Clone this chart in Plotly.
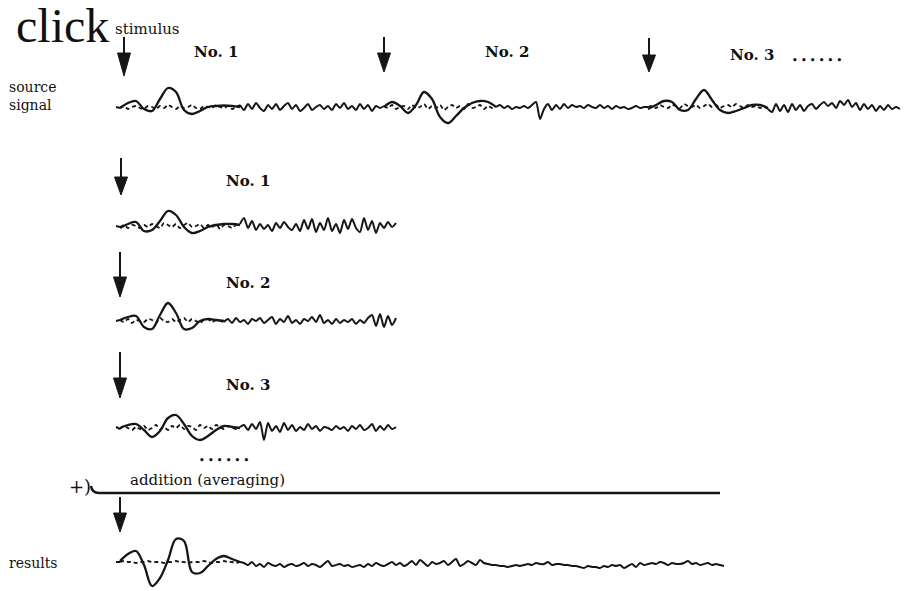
import numpy as np
import plotly.graph_objects as go

W, H = 912, 591
INK = "#161616"

# ---------------------------------------------------------------------------
# Waveform data (time in ms, amplitude in arbitrary units, positive = up)
# noise is sampled every 1 ms, evoked responses every 2 ms
# ---------------------------------------------------------------------------
NOISE_DT = 1
RESP_DT = 2

# continuous recording with three stimuli
source_t0 = -1
source_stimuli = [0, 66, 132]
source_noise = [
    0, -1, 1, -2, 0, 1, -1, -2, 1, 0, -2, 1, -1, 2, 0, -2, 1, -1, 0, 2, -1, -2, 1, 0, -1, 2, 0, -1, 1, -2, 0,
    2, -3, 3, -2, 4, -1, -4, 2, -2, 3, -3, 1, 4, -2, 2, -4, -1, 3, -3, 0, 2, -2, 1, -3, 3, -1, 4, -2, 1, -3, 3, -2, 2, -4, 1, -1,
    1, -1, 2, -2, 0, 1, -2, 2, -1, 0, 3, -2, 1, -1, 2, -3, 0, 2, -1, 1, -2, 3, -1, 0, 2, -2, 1, -1, 0,
    2, -1, 1, -2, 0, -1, 1, -1, 2, 5, -12, -2, 3, -3, 2, -2, 3, -1, 2, 0, 1, -1, 2, 0, -1, 2, -1, 1, -2, 1, -1, 0, -2, -1, 1, -1, 0,
    0, 1, -1, 2, 0, -1, 2, 1, -1, 3, 1, 0, 2, -1, 1, 3, 0, 2, -1, 1, 2, 0, 3, 1, -1, 2, 0, 1, -1, 0, -2,
    -5, 3, -4, 2, -5, 3, -3, 2, -4, 1, 3, -2, 2, 5, 1, 4, -1, 6, 2, 7, 0, 4, -3, 3, -2, 2, -4, 1, -3, 2, -2, 0, -2,
]
source_resp_1 = [-1, 4, 6, -2, -4, 8, 19, 15, -3, -7, -4, 0, 1, 1.5, 1, 0]
source_resp_2 = [0, 5, 1, -6, 2, 15, 8, -10, -16, -9, -1, 4, 6, 5, 0]
source_resp_3 = [-2, 2, 6, 5, -3, -3, 8, 17, 7, -3, -6, -4, -1, 2, 2, -1]

# single epochs cut from the recording
epoch_labels = ["No. 1", "No. 2", "No. 3"]
epoch_t0 = -1
epoch_noise_1 = [
    0, -1, 1, -2, 1, 0, -2, 1, -1, 2, 0, -2, 3, 1, -1, 2, -2, 1, 3, -1, 0, 2, -2, 1, -1, 2, -3, 1, 0, -2, 1, 2,
    8, -2, 5, -4, 2, -3, 1, -5, 3, -2, 4, -1, -4, 2, -5, 6, -3, 7, -6, 3, -4, 8, -5, 2, -7, 6, -3, 7, -2, -6,
    8, -4, 5, -7, 3, -2, 4, -1, 3,
]
epoch_noise_2 = [
    0, 1, -1, 2, -2, 1, 0, -1, 2, 1, -2, 3, 0, -1, 2, -1, 1, 3, -1, 2, 0, -2, 1, 2, -1, 1, 0, -1,
    2, -2, 3, -1, 1, -3, 2, 0, 3, -2, 1, 4, -3, 2, -1, 5, -2, 1, -3, 2, 0, 4, -1, 6, -2, 1, -3, 2, -2, 1,
    -1, 2, -3, 1, -2, 3, 6, -5, 7, -6, 5, -4, 3,
]
epoch_noise_3 = [
    1, -1, 2, 0, -2, 1, -1, 2, -2, 0, 3, -1, 1, -2, 2, 0, 3, -1, 2, 1, -2, 3, 0, 2, -1, 3, 1, -1, 2, 0, -1, 1,
    3, -2, 4, -1, 6, -12, 5, -3, 2, -4, 5, -2, 3, -3, 1, -2, 4, -1, 2, -3, 1, 0, -2, 2, -1, 1, -3, 2, -1, 3,
    -2, 0, 4, -3, 2, -2, 3, -1, 1,
]
epoch_resp_1 = [-2, 2, 4, -5, -4, 5, 15, 11, -1, -7, -5, -1, 1, 2, 2, 1]
epoch_resp_2 = [1, 4, 5, -6, -8, 6, 18, 8, -8, -7, 0, 2, 1, 0]
epoch_resp_3 = [0, 3, 4, -2, -9, -3, 10, 13, 4, -8, -12, -8, -2, 2, 1, 0]

# averaged result
average_t0 = -1
average_noise = [
    0, 0, 1, 0, 0, -1, 0, 0, 1, 0, 0, 0, -1, 0, 0, 1, 0, 0, -1, 0, 0, 0, 1, 0, -1, 0, 0, 1, 0, 0, -1, 0,
    -1, -3, 0, -4, -2, -5, -1, -3, -4, -2, -5, -3, -2, -4, -3, -1, -4, -2, -3, -5,
    -2, 1, -4, -3, -2, -4, -3, -5, -4, -3, -5, -2, -4, -1, -3, -4, -2, 0, -3, -1,
    -4, -2, 1, -3, 2, -1, -4, 0, -2, -1, 1, -3, 0, 3, -4, -2, 1, -1, -3, 2,
    -1, -2, -3, -3, -4, -4, -5, -4, -3, -4, -3, -2, -3, -1, -2, -2, 0, -3, -2, -2,
    -3, -3, -4, -4, -5, -6, -4, -5, -5, -6, -4, -5, -3, -4, -3, -6, -4, -2, -5, -1,
    -3, -2, -1, -2, 0, -1, -3, -1, -2, -2, -1, 1, -2, -1, -3, -2, -1, -3, -2, -3, -4,
]
average_resp = [1, 8, 11, -3, -24, -16, 2, 23, 21, -10, -11, -4, 3, 6, 3, 0]

# ---------------------------------------------------------------------------
# Row placement on the page (pixels); 4 px per ms, 1 px per amplitude unit
# ---------------------------------------------------------------------------
PX_PER_MS = 4.0
STIM_PX = 120
rows = [
    dict(t0=source_t0, noise=source_noise, stim=source_stimuli,
         resp=[source_resp_1, source_resp_2, source_resp_3], base=107, half=38),
    dict(t0=epoch_t0, noise=epoch_noise_1, stim=[0], resp=[epoch_resp_1], base=226, half=38),
    dict(t0=epoch_t0, noise=epoch_noise_2, stim=[0], resp=[epoch_resp_2], base=321, half=38),
    dict(t0=epoch_t0, noise=epoch_noise_3, stim=[0], resp=[epoch_resp_3], base=428, half=38),
    dict(t0=average_t0, noise=average_noise, stim=[0], resp=[average_resp], base=562, half=28),
]

fig = go.Figure()
layout_axes = {}

for i, row in enumerate(rows, start=1):
    xa = "x" if i == 1 else f"x{i}"
    ya = "y" if i == 1 else f"y{i}"
    t = row["t0"] + NOISE_DT * np.arange(len(row["noise"]))
    y = np.asarray(row["noise"], dtype=float)

    in_win = np.zeros(len(t), dtype=bool)
    edge = np.zeros(len(t), dtype=bool)
    for s, r in zip(row["stim"], row["resp"]):
        end = s + RESP_DT * (len(r) - 1)
        in_win |= (t >= s) & (t <= end)
        edge |= (t == s) | (t == end)

    solid = np.where(~in_win | edge, y, np.nan)
    dotted = np.where(in_win, y, np.nan)

    fig.add_trace(go.Scatter(x=t, y=dotted, mode="lines", xaxis=xa, yaxis=ya,
                             line=dict(color=INK, width=1.8, dash="4px,3px",
                                       shape="spline", smoothing=0.7),
                             hoverinfo="skip", showlegend=False))
    fig.add_trace(go.Scatter(x=t, y=solid, mode="lines", xaxis=xa, yaxis=ya,
                             line=dict(color=INK, width=2.0, shape="spline", smoothing=0.7),
                             hoverinfo="skip", showlegend=False))
    for s, r in zip(row["stim"], row["resp"]):
        tr = s + RESP_DT * np.arange(len(r))
        fig.add_trace(go.Scatter(x=tr, y=r, mode="lines", xaxis=xa, yaxis=ya,
                                 line=dict(color=INK, width=2.3, shape="spline", smoothing=1.0),
                                 hoverinfo="skip", showlegend=False))

    t_lo = t[0] - 1
    t_hi = t[-1] + 1
    px_lo = STIM_PX + PX_PER_MS * t_lo
    px_hi = STIM_PX + PX_PER_MS * t_hi
    top = row["base"] - row["half"]
    bot = row["base"] + row["half"]
    key = "" if i == 1 else str(i)
    layout_axes[f"xaxis{key}"] = dict(domain=[px_lo / W, px_hi / W], range=[t_lo, t_hi],
                                      visible=False, fixedrange=True, anchor=ya)
    layout_axes[f"yaxis{key}"] = dict(domain=[1 - bot / H, 1 - top / H],
                                      range=[-row["half"], row["half"]],
                                      visible=False, fixedrange=True, anchor=xa)

# page canvas for labels, arrows and the summation rule
layout_axes["xaxis6"] = dict(domain=[0, 1], range=[0, W], visible=False, fixedrange=True, anchor="y6")
layout_axes["yaxis6"] = dict(domain=[0, 1], range=[H, 0], visible=False, fixedrange=True, anchor="x6")

SERIF = "DejaVu Serif"
shapes = []


def arrow(x, y_top, y_head, y_tip, half_w=6.5):
    shapes.append(dict(type="line", xref="x6", yref="y6", x0=x, x1=x, y0=y_top, y1=y_head + 2,
                       line=dict(color=INK, width=2)))
    shapes.append(dict(type="path", xref="x6", yref="y6",
                       path=f"M {x - half_w},{y_head} L {x + half_w},{y_head} L {x},{y_tip} Z",
                       fillcolor=INK, line=dict(color=INK, width=1)))


arrow(124, 37, 53, 76)
arrow(384, 37, 53, 72)
arrow(649, 38, 55, 72)
arrow(121, 158, 177, 195)
arrow(120, 252, 277, 297)
arrow(120, 352, 378, 398)
arrow(120, 497, 513, 532)

# summation rule with its small hook
shapes.append(dict(type="path", xref="x6", yref="y6",
                   path="M 91,486 Q 92,493 99,493 L 720,493",
                   line=dict(color=INK, width=2.4)))

annotations = []


def label(text, x, y, size, anchor="center", family=SERIF, color="#111111", align="center"):
    annotations.append(dict(text=text, x=x, y=y, xref="x6", yref="y6", showarrow=False,
                            xanchor=anchor, yanchor="middle", align=align,
                            font=dict(family=family, size=size, color=color)))


label("click", 62, 25, 48, family="Liberation Serif")
label("stimulus", 147, 29, 15)
label("<b>No. 1</b>", 216, 52, 15)
label("<b>No. 2</b>", 507, 52, 15)
label("<b>No. 3</b>", 752, 55, 15)
label("<b>\u2022 \u2022 \u2022 \u2022 \u2022 \u2022</b>", 817, 60, 9)
label("source<br>signal", 7, 96, 14, anchor="left", align="left")
for txt, yy in zip(epoch_labels, [181, 283, 385]):
    label(f"<b>{txt}</b>", 248, yy, 15)
label("<b>\u2022 \u2022 \u2022 \u2022 \u2022 \u2022</b>", 224, 460, 9)
label("+)", 80, 486, 18)
label("addition (averaging)", 207, 480, 15)
label("results", 7, 563, 14, anchor="left")

fig.update_layout(
    width=W, height=H,
    margin=dict(l=0, r=0, t=0, b=0),
    paper_bgcolor="white", plot_bgcolor="rgba(0,0,0,0)",
    showlegend=False,
    shapes=shapes,
    annotations=annotations,
    **layout_axes,
)

fig.write_html("out.html")
